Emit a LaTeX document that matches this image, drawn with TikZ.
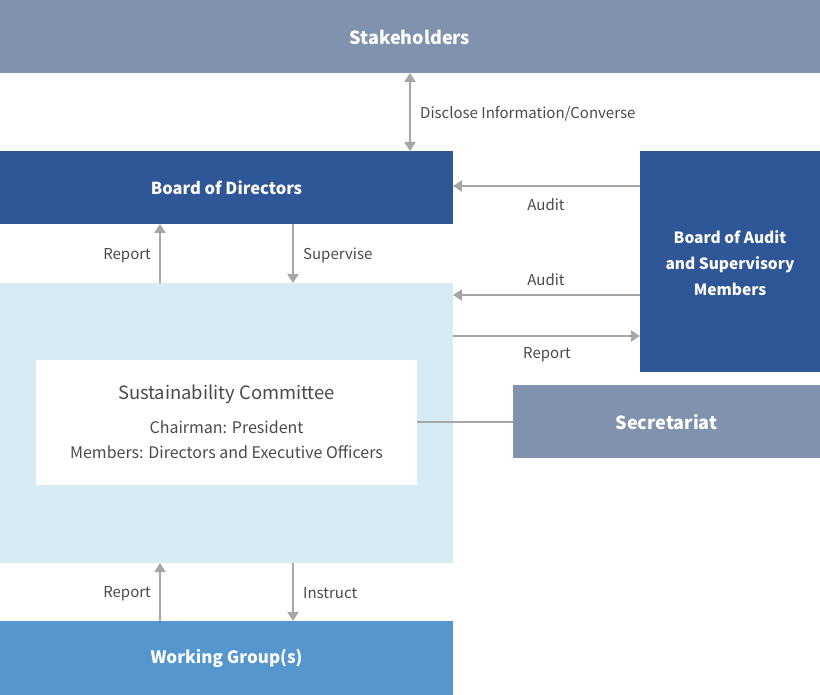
\documentclass[tikz,border=0pt]{standalone}
\usepackage{fontspec}
\setmainfont{Noto Sans CJK KR}
\usetikzlibrary{arrows.meta}
\definecolor{slate}{HTML}{8192AE}
\definecolor{navy}{HTML}{2F5696}
\definecolor{skyb}{HTML}{5596CF}
\definecolor{pale}{HTML}{D7EBF4}
\definecolor{arr}{HTML}{A6A6A6}
\definecolor{txt}{HTML}{4A4A4A}
\begin{document}
\begin{tikzpicture}[x=1pt,y=-1pt,
  ttl/.style={text=white,font=\bfseries\fontsize{18}{22}\selectfont,align=center},
  lbl/.style={text=txt,font=\fontsize{15}{18}\selectfont,inner sep=0pt},
  con/.style={draw=arr,line width=2pt,-{Triangle[width=11pt,length=9pt]}},
  con2/.style={draw=arr,line width=2pt,{Triangle[width=11pt,length=9pt]}-{Triangle[width=11pt,length=9pt]}},
  plain/.style={draw=arr,line width=2pt}]
\useasboundingbox (0,0) rectangle (820,695);
% blocks
\fill[slate] (0,0) rectangle (820,73);
\node[ttl] (stake) at (410,37) {Stakeholders};
\coordinate (stakeB) at (410,73);
\fill[navy] (0,151) rectangle (453,224);
\node[ttl,font=\bfseries\fontsize{16.5}{20}\selectfont] (bod) at (226.5,188) {Board of Directors};
\fill[navy] (640,151) rectangle (820,372);
\node[ttl,font=\bfseries\fontsize{15.5}{26}\selectfont] (boa) at (730,263) {Board of Audit\\and Supervisory\\Members};
\fill[pale] (0,283) rectangle (453,563);
\fill[white] (36,360) rectangle (417,485);
\node[text=txt,font=\fontsize{18.4}{22}\selectfont] (sc) at (226.5,394) {Sustainability Committee};
\node[text=txt,font=\fontsize{16}{25}\selectfont,align=center] (scm) at (226.5,440) {Chairman: President\\Members: Directors and Executive Officers};
\fill[slate] (513,385) rectangle (820,458);
\node[ttl] (sec) at (666.5,422) {Secretariat};
\fill[skyb] (0,621) rectangle (453,695);
\node[ttl,font=\bfseries\fontsize{17}{20}\selectfont] (wg) at (226.5,658) {Working Group(s)};
% coordinates for connectors
\coordinate (bodT) at (410,151);
\coordinate (bodR1) at (453,186);
\coordinate (boaL1) at (640,186);
\coordinate (bodB1) at (160,224);
\coordinate (bodB2) at (293,224);
\coordinate (scT1) at (160,283);
\coordinate (scT2) at (293,283);
\coordinate (scR1) at (453,295);
\coordinate (boaL2) at (640,295);
\coordinate (scR2) at (453,336);
\coordinate (boaL3) at (640,336);
\coordinate (wbR) at (417,422);
\coordinate (secL) at (513,422);
\coordinate (scB1) at (160,563);
\coordinate (scB2) at (293,563);
\coordinate (wgT1) at (160,621);
\coordinate (wgT2) at (293,621);
% connectors
\draw[con2] (stakeB) -- (bodT);
\node[lbl,anchor=west] (l1) at (420,113.5) {Disclose Information/Converse};
\draw[con] (boaL1) -- (bodR1);
\node[lbl] (l2) at (546,204.5) {Audit};
\draw[con] (scT1) -- (bodB1);
\node[lbl,anchor=east] (l3) at (151,255.5) {Report};
\draw[con] (bodB2) -- (scT2);
\node[lbl,anchor=west] (l4) at (303,255.5) {Supervise};
\draw[con] (boaL2) -- (scR1);
\node[lbl] (l5) at (546,279.5) {Audit};
\draw[con] (scR2) -- (boaL3);
\node[lbl] (l6) at (547,354.5) {Report};
\draw[plain] (wbR) -- (secL);
\draw[con] (wgT1) -- (scB1);
\node[lbl,anchor=east] (l7) at (151,593.5) {Report};
\draw[con] (scB2) -- (wgT2);
\node[lbl,anchor=west] (l8) at (303,593.5) {Instruct};
\end{tikzpicture}
\end{document}
